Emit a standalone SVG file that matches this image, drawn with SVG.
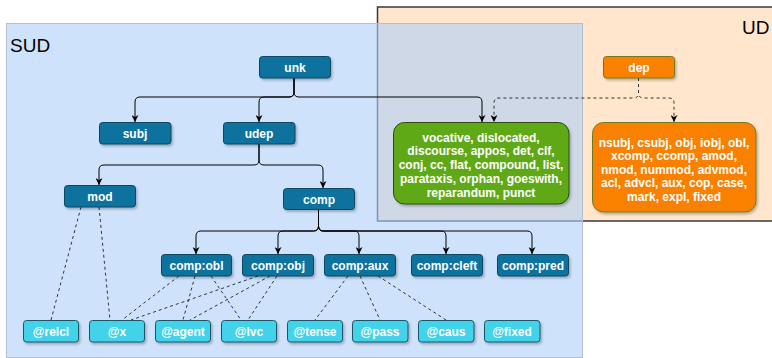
<svg xmlns="http://www.w3.org/2000/svg" width="772" height="358" viewBox="0 0 772 358">
<defs>
<filter id="sh" x="-20%" y="-20%" width="150%" height="160%">
<feDropShadow dx="1.5" dy="2" stdDeviation="0.8" flood-color="#000" flood-opacity="0.25"/>
</filter>
<marker id="arr" viewBox="0 0 10 10" refX="10" refY="5" markerWidth="7" markerHeight="7" orient="auto" markerUnits="userSpaceOnUse">
<path d="M0,0 L10,5 L0,10 L3,5 z" fill="#000"/>
</marker>
<style>
.nd rect{fill:#10739e;stroke:#0b4660;stroke-width:1}
.lf rect{fill:#43d3ea;stroke:#1a5565;stroke-width:1}
.nd text,.lf text,.bx text{font-family:"Liberation Sans",Arial,sans-serif;font-weight:bold;fill:#fff;text-anchor:middle}
.nd text,.lf text{font-size:12px}
.bx text{font-size:12px}
.ttl{font-family:"Liberation Sans",Arial,sans-serif;font-size:19px;fill:#000}
.c{fill:none;stroke:#000;stroke-width:1}
.ca{marker-end:url(#arr)}
.d{fill:none;stroke:#333;stroke-width:1;stroke-dasharray:3 3}
</style>
</defs>
<rect x="0" y="0" width="772" height="358" fill="#fff"/>
<g id="UD">
<rect x="377.5" y="7" width="420" height="214" fill="#ffe6cc" stroke="#36393d" stroke-width="1.5"/>
<text class="ttl" x="742" y="34">UD</text>
</g>
<g id="SUD">
<rect x="6.5" y="23.5" width="576" height="334" fill="#afcff8" fill-opacity="0.6" stroke="#b4bfcb" stroke-width="1"/>
<text class="ttl" x="10" y="52">SUD</text>
</g>
<g id="connectors">
<path class="c ca" d="M294,78 V92 Q294,97 289,97 H140 Q135,97 135,102 V122"/>
<path class="c ca" d="M294,78 V92 Q294,97 289,97 H264 Q259,97 259,102 V122"/>
<path class="c ca" d="M294,78 V92 Q294,97 299,97 H477 Q482,97 482,102 V122"/>
<path class="d ca" d="M638.5,78 V93 Q638.5,98 633.5,98 H499 Q494,98 494,103 V122"/>
<path class="d ca" d="M638.5,78 V93 Q638.5,98 643.5,98 H669 Q674,98 674,103 V122"/>
<path class="c ca" d="M259,144 V160 Q259,165 254,165 H104 Q99,165 99,170 V185"/>
<path class="c ca" d="M259,144 V160 Q259,165 264,165 H318 Q323,165 323,170 V188"/>
<path class="c ca" d="M318.5,209 V226 Q318.5,231 313.5,231 H201 Q196,231 196,236 V254"/>
<path class="c ca" d="M318.5,209 V226 Q318.5,231 313.5,231 H283 Q278,231 278,236 V254"/>
<path class="c ca" d="M318.5,209 V226 Q318.5,231 323.5,231 H354 Q359,231 359,236 V254"/>
<path class="c ca" d="M318.5,209 V226 Q318.5,231 323.5,231 H441 Q446,231 446,236 V254"/>
<path class="c ca" d="M318.5,209 V226 Q318.5,231 323.5,231 H527 Q532,231 532,236 V254"/>
<line class="d" x1="81" y1="207" x2="51" y2="320"/>
<line class="d" x1="99" y1="207" x2="110" y2="320"/>
<line class="d" x1="179" y1="276" x2="122" y2="320"/>
<line class="d" x1="195" y1="276" x2="183" y2="320"/>
<line class="d" x1="211" y1="276" x2="241" y2="320"/>
<line class="d" x1="258" y1="276" x2="131" y2="320"/>
<line class="d" x1="270" y1="276" x2="190" y2="320"/>
<line class="d" x1="277" y1="276" x2="248" y2="320"/>
<line class="d" x1="348" y1="276" x2="315" y2="320"/>
<line class="d" x1="360" y1="276" x2="380" y2="320"/>
<line class="d" x1="378" y1="276" x2="446" y2="320"/>
</g>
<g id="unk" class="nd"><rect x="259.5" y="56.5" width="71" height="21.5" rx="3" filter="url(#sh)"/><text x="295" y="71.5">unk</text></g>
<g id="subj" class="nd"><rect x="99.5" y="122.5" width="71.5" height="21.5" rx="3" filter="url(#sh)"/><text x="135" y="137.5">subj</text></g>
<g id="udep" class="nd"><rect x="223.5" y="122.5" width="71.5" height="21.5" rx="3" filter="url(#sh)"/><text x="259" y="137.5">udep</text></g>
<g id="mod" class="nd"><rect x="64.5" y="185.5" width="71" height="21.5" rx="3" filter="url(#sh)"/><text x="100" y="200.5">mod</text></g>
<g id="comp" class="nd"><rect x="283.5" y="188.5" width="71" height="21" rx="3" filter="url(#sh)"/><text x="319" y="203.5">comp</text></g>
<g id="comp-obl" class="nd"><rect x="161.5" y="254.5" width="70" height="21.5" rx="3" filter="url(#sh)"/><text x="196.5" y="269.5">comp:obl</text></g>
<g id="comp-obj" class="nd"><rect x="242.5" y="254.5" width="71" height="21.5" rx="3" filter="url(#sh)"/><text x="278" y="269.5">comp:obj</text></g>
<g id="comp-aux" class="nd"><rect x="324.5" y="254.5" width="71" height="21.5" rx="3" filter="url(#sh)"/><text x="360" y="269.5">comp:aux</text></g>
<g id="comp-cleft" class="nd"><rect x="411.5" y="254.5" width="71" height="21.5" rx="3" filter="url(#sh)"/><text x="447" y="269.5">comp:cleft</text></g>
<g id="comp-pred" class="nd"><rect x="497.5" y="254.5" width="71" height="21.5" rx="3" filter="url(#sh)"/><text x="533" y="269.5">comp:pred</text></g>
<g id="relcl" class="lf"><rect x="23.5" y="320.5" width="55" height="21.5" rx="3" filter="url(#sh)"/><text x="51" y="335.5">@relcl</text></g>
<g id="x" class="lf"><rect x="89.5" y="320.5" width="55" height="21.5" rx="3" filter="url(#sh)"/><text x="117" y="335.5">@x</text></g>
<g id="agent" class="lf"><rect x="155.5" y="320.5" width="55" height="21.5" rx="3" filter="url(#sh)"/><text x="183" y="335.5">@agent</text></g>
<g id="lvc" class="lf"><rect x="221.5" y="320.5" width="55" height="21.5" rx="3" filter="url(#sh)"/><text x="249" y="335.5">@lvc</text></g>
<g id="tense" class="lf"><rect x="287.5" y="320.5" width="55" height="21.5" rx="3" filter="url(#sh)"/><text x="315" y="335.5">@tense</text></g>
<g id="pass" class="lf"><rect x="352.5" y="320.5" width="55.5" height="21.5" rx="3" filter="url(#sh)"/><text x="380" y="335.5">@pass</text></g>
<g id="caus" class="lf"><rect x="418.5" y="320.5" width="55.5" height="21.5" rx="3" filter="url(#sh)"/><text x="446" y="335.5">@caus</text></g>
<g id="fixed" class="lf"><rect x="484.5" y="320.5" width="55.5" height="21.5" rx="3" filter="url(#sh)"/><text x="512" y="335.5">@fixed</text></g>
<g id="dep"><rect x="603.5" y="56.5" width="71" height="21.5" rx="3" fill="#fa8000" stroke="#6f7a1e" filter="url(#sh)"/><text x="639" y="71.5" font-family="Liberation Sans, Arial, sans-serif" font-weight="bold" font-size="12" fill="#fff" text-anchor="middle">dep</text></g>
<g id="green" class="bx"><rect x="393.5" y="122.5" width="175.5" height="81.5" rx="11" fill="#60a917" stroke="#2d4a10" filter="url(#sh)"/>
<text x="481" y="141.5">vocative, dislocated,</text>
<text x="481" y="155.3">discourse, appos, det, clf,</text>
<text x="481" y="169">conj, cc, flat, compound, list,</text>
<text x="481" y="182.8">parataxis, orphan, goeswith,</text>
<text x="481" y="196.5">reparandum, punct</text>
</g>
<g id="orange" class="bx"><rect x="592.5" y="122.5" width="163.5" height="89.5" rx="11" fill="#fa8000" stroke="#6f7a1e" filter="url(#sh)"/>
<text x="674" y="146.5">nsubj, csubj, obj, iobj, obl,</text>
<text x="674" y="160.1">xcomp, ccomp, amod,</text>
<text x="674" y="173.7">nmod, nummod, advmod,</text>
<text x="674" y="187.3">acl, advcl, aux, cop, case,</text>
<text x="674" y="201">mark, expl, fixed</text>
</g>
</svg>
